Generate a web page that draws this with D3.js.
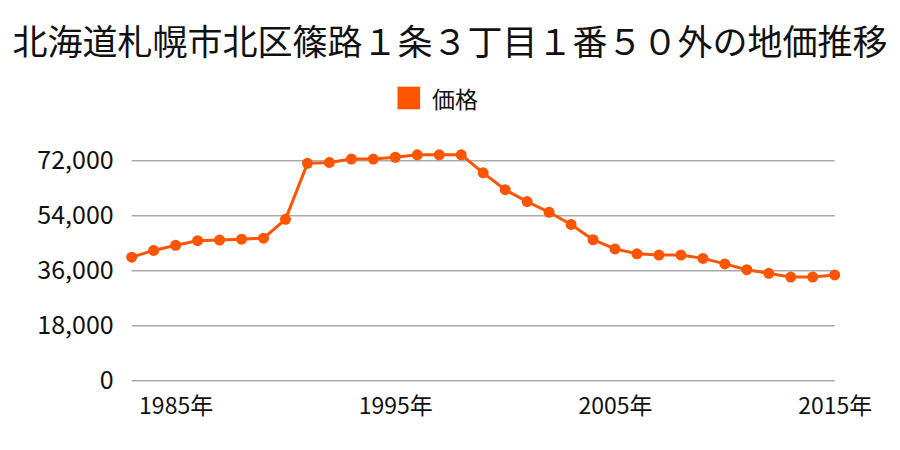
<!DOCTYPE html>
<html><head><meta charset="utf-8">
<script src="https://cdn.jsdelivr.net/npm/d3@7"></script>
<style>body{margin:0;background:#fff}svg{display:block}text{font-family:"Noto Sans CJK JP","Noto Sans",sans-serif;fill:#111}</style>
</head><body><svg id="c" width="900" height="450"></svg>
<script>
const title = "北海道札幌市北区篠路１条３丁目１番５０外の地価推移";
const seriesName = "価格";
const years = [1983,1984,1985,1986,1987,1988,1989,1990,1991,1992,1993,1994,1995,1996,1997,1998,1999,2000,2001,2002,2003,2004,2005,2006,2007,2008,2009,2010,2011,2012,2013,2014,2015];
const prices = [40300,42500,44200,45700,45900,46200,46500,52700,71000,71300,72400,72400,73000,73800,73800,73800,67900,62400,58500,55000,51000,46000,43000,41400,41000,41000,39900,38100,36200,35000,33800,33800,34500];
const yTicks = [0,18000,36000,54000,72000];
const xTicks = [1985,1995,2005,2015];

const svg = d3.select("#c");
const color = "#ff5500";
const x = d3.scaleLinear().domain([1983,2015]).range([131.7,834.7]);
const y = d3.scaleLinear().domain([0,72000]).range([380.3,160.3]);

svg.append("text").attr("x",450).attr("y",39).attr("text-anchor","middle")
  .attr("dominant-baseline","central").style("font-size","35px").text(title);

svg.append("rect").attr("x",397.5).attr("y",86.7).attr("width",22.6).attr("height",22.6).attr("fill",color);
svg.append("text").attr("x",432).attr("y",98).attr("dominant-baseline","central")
  .style("font-size","23px").text(seriesName);

const yAxis = d3.axisLeft(y).tickValues(yTicks).tickSize(-(x.range()[1]-x.range()[0])).tickPadding(18)
  .tickFormat(d3.format(","));
const gy = svg.append("g").attr("transform",`translate(${x.range()[0]},0)`).call(yAxis);
gy.select(".domain").remove();
gy.selectAll("line").attr("stroke","#aaaaaa").attr("stroke-width",1.5);
gy.selectAll("text").style("font-size","25px").attr("fill","#111");

const xAxis = d3.axisBottom(x).tickValues(xTicks).tickSize(0).tickPadding(0).tickFormat(d=>d+"年");
const gx = svg.append("g").attr("transform","translate(0,404)").call(xAxis);
gx.select(".domain").remove();
gx.selectAll("text").attr("dy",null).attr("dominant-baseline","central").style("font-size","23px").attr("fill","#111");

const data = years.map((d,i)=>({year:d,v:prices[i]}));
svg.append("path").datum(data).attr("fill","none").attr("stroke",color).attr("stroke-width",3)
  .attr("d",d3.line().x(d=>x(d.year)).y(d=>y(d.v)));
svg.append("g").selectAll("circle").data(data).join("circle")
  .attr("cx",d=>x(d.year)).attr("cy",d=>y(d.v)).attr("r",5.5).attr("fill",color);
</script></body></html>
